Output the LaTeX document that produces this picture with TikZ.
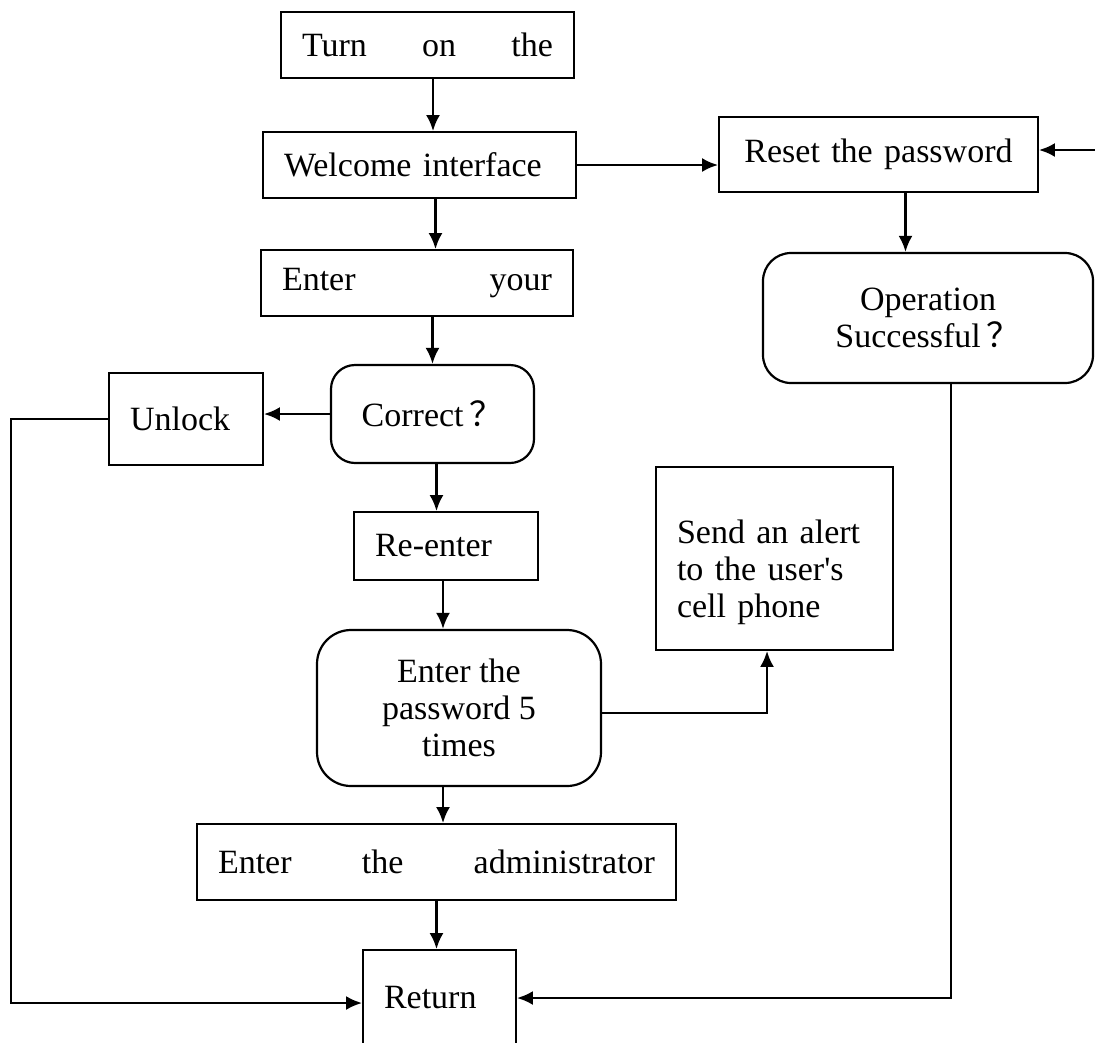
\documentclass[tikz,border=0pt]{standalone}
\usepackage{fontspec}
\setmainfont{Liberation Serif}
\newfontfamily\cjk{Noto Sans CJK SC}
\usetikzlibrary{shapes,arrows.meta}
\tikzstyle{block} = [rectangle, draw, line width=1.8pt, align=left, inner xsep=21pt, inner ysep=0pt, font=\fontsize{34}{37}\selectfont]
\tikzstyle{decision} = [block, line width=2.2pt, rounded corners=24pt, align=center]
\tikzstyle{line} = [draw, line width=2.6pt, -{Latex[length=16pt,width=14pt]}]

\begin{document}
\begin{tikzpicture}[x=1pt, y=-1pt]
      \useasboundingbox (0,0) rectangle (1095,1042);
      % place nodes
      \node [block, text width=251pt, minimum height=66pt] (turn) at (427.5,45) {Turn\hfill on\hfill the};
      \node [block, text width=271pt, minimum height=66pt] (welcome) at (419.5,165) {Welcome interface};
      \node [block, text width=270pt, minimum height=66pt] (enter) at (417,283) {Enter\hfill your};
      \node [decision, minimum width=203pt, minimum height=98pt] (correct) at (432.5,414) {Correct\,{\cjk ？}};
      \node [block, text width=112pt, minimum height=92pt] (unlock) at (186,419) {Unlock};
      \node [block, text width=142pt, minimum height=68pt] (reenter) at (446,546) {Re-enter};
      \node [decision, rounded corners=34pt, minimum width=284pt, minimum height=156pt] (enter5) at (459,708) {Enter the\\password 5\\times};
      \node [block, text width=195pt, minimum height=183pt] (send) at (774.5,558.5) {\rule{0pt}{51pt}Send an alert\\to the user\textquotesingle s\\cell phone};
      \node [block, text width=437pt, minimum height=76pt] (admin) at (436.5,862) {Enter\hfill the\hfill administrator};
      \node [block, text width=111pt, minimum height=96pt] (ret) at (439.5,998) {Return};
      \node [block, align=center, text width=277pt, minimum height=75pt] (reset) at (878.5,154.5) {Reset the password};
      \node [decision, rounded corners=28pt, minimum width=330pt, minimum height=130pt] (oper) at (928,318) {Operation\\Successful\,{\cjk ？}};
      \coordinate (inR) at (1095,150);
      \coordinate (lft) at (11,419);

      % draw edges
      \path [line] ([xshift=5.5pt]turn.south) -- ([xshift=5.5pt]turn.south |- welcome.north);
      \path [line] ([xshift=16pt]welcome.south) -- ([xshift=16pt]welcome.south |- enter.north);
      \path [line] (welcome.east) -- (welcome.east -| reset.west);
      \path [line] (inR) -- (inR -| reset.east);
      \path [line] ([xshift=27pt]reset.south) -- ([xshift=27pt]reset.south |- oper.north);
      \path [line] (enter.south -| correct.north) -- (correct.north);
      \path [line] (correct.west) -- (correct.west -| unlock.east);
      \path [line] (unlock.west) -- (lft) |- ([yshift=-5pt]ret.west);
      \path [line] ([xshift=4pt]correct.south) -- ([xshift=4pt]correct.south |- reenter.north);
      \path [line] ([xshift=-3pt]reenter.south) -- ([xshift=-3pt]reenter.south |- enter5.north);
      \path [line] ([yshift=-5pt]enter5.east) -| ([xshift=-7.5pt]send.south);
      \path [line] ([xshift=-16pt]enter5.south) -- ([xshift=-16pt]enter5.south |- admin.north);
      \path [line] (admin.south) -- (admin.south |- ret.north);
      \path [line] ([xshift=23pt]oper.south) |- (ret.east);
\end{tikzpicture}
\end{document}
